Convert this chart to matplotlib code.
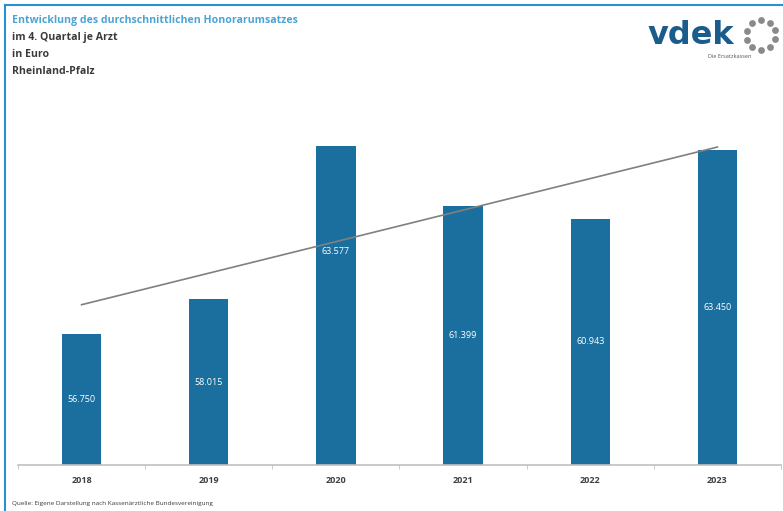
import matplotlib.pyplot as plt
import numpy as np

# Data
years = ["2018", "2019", "2020", "2021", "2022", "2023"]
honorar = [56750, 58015, 63577, 61399, 60943, 63450]
# where the value label sits inside each bar (share of bar height)
label_frac = [0.5, 0.5, 0.67, 0.5, 0.5, 0.5]

title_lines = ["Entwicklung des durchschnittlichen Honorarumsatzes",
               "im 4. Quartal je Arzt", "in Euro", "Rheinland-Pfalz"]
source = "Quelle: Eigene Darstellung nach Kassenärztliche Bundesvereinigung"

bar_color = "#1b6f9e"
plt.rcParams['font.family'] = ['Open Sans', 'DejaVu Sans']

W, H = 783, 511
fig = plt.figure(figsize=(W / 100, H / 100), dpi=100)

# main chart
ax = fig.add_axes([18 / W, 46 / H, 763 / W, 344 / H])
x = np.arange(len(years))
base = 52000
ax.bar(x, honorar, width=0.31, color=bar_color)
ax.set_xlim(-0.5, len(years) - 0.5)
ax.set_ylim(base, 64500)

# linear trend line
k, d = np.polyfit(x, honorar, 1)
ax.plot(x, k * x + d, color="#808080", linewidth=1.2)

for xi, v, f in zip(x, honorar, label_frac):
    label = f"{v:,}".replace(",", ".")
    ax.text(xi, base + (v - base) * f, label, ha="center", va="center",
            color="white", fontsize=6.5)

for s in ["top", "left", "right"]:
    ax.spines[s].set_visible(False)
ax.spines["bottom"].set_color("#c0c0c0")
ax.spines["bottom"].set_linewidth(1.2)
ax.set_yticks([])
ax.set_xticks(x)
ax.set_xticklabels(years, fontsize=6.5, fontweight="bold", color="#404040")
ax.tick_params(axis="x", length=0, pad=8)
ax.set_xticks(np.arange(-0.5, len(years)), minor=True)
ax.tick_params(axis="x", which="minor", length=3, color="#c0c0c0")

# overlay in pixel coordinates for frame, titles and logo
ov = fig.add_axes([0, 0, 1, 1], zorder=-1)
ov.set_xlim(0, W)
ov.set_ylim(H, 0)
ov.axis("off")
ov.plot([5, 5], [5, H], color="#2a8fd0", linewidth=1.5)
ov.plot([5, W], [5, 5], color="#2a8fd0", linewidth=1.5)

top = fig.add_axes([0, 0, 1, 1], facecolor="none")
top.set_xlim(0, W)
top.set_ylim(H, 0)
top.axis("off")

for i, line in enumerate(title_lines):
    top.text(12, 20 + i * 17.3, line, fontsize=7.6, fontweight="bold",
             color="#4ba3d6" if i == 0 else "#3a3a3a", va="center")
top.text(12, 504, source, fontsize=4.6, color="#3a3a3a", va="center")

# logo
top.text(648, 36, "vdek", fontsize=23, fontweight="bold", color="#1a5d8c",
         va="center", family="DejaVu Sans")
top.text(708, 56, "Die Ersatzkassen", fontsize=4, color="#555555", va="center")
ang = np.linspace(0, 2 * np.pi, 11)[:-1] + 0.3
top.scatter(761 + 15 * np.cos(ang), 35 + 15 * np.sin(ang), s=24,
            color="#8a8a8a", marker="o", linewidths=0)

fig.savefig("out.png", dpi=100)
